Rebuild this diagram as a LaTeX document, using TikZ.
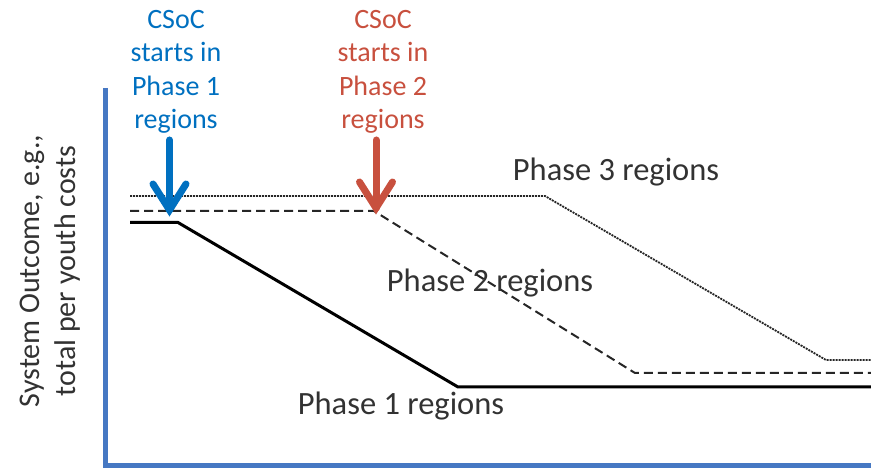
\documentclass[tikz,border=0pt]{standalone}
\usepackage{fontspec}
\setmainfont{Carlito}
\definecolor{axisblue}{RGB}{70,120,195}
\definecolor{arrblue}{RGB}{0,112,192}
\definecolor{arrred}{RGB}{200,80,62}
\definecolor{txtgray}{RGB}{50,50,50}
\begin{document}
\begin{tikzpicture}[x=1pt,y=-1pt,
  lbl/.style={font=\fontsize{28}{33.5}\selectfont, align=center, inner sep=0pt},
  phaselbl/.style={font=\fontsize{32.5}{38}\selectfont, text=txtgray, inner sep=0pt},
  bigarrow/.style={line width=7pt, line cap=round, line join=miter},
  p1/.style={line width=3pt, black},
  p2/.style={line width=2pt, black!85, dash pattern=on 9pt off 5pt},
  p3/.style={line width=1.8pt, black!85, dash pattern=on 2pt off 1pt}]
\useasboundingbox (0,0) rectangle (871,470);
% axes
\coordinate (ytop) at (105,88);
\coordinate (origin) at (105,466);
\coordinate (xend) at (871,466);
\draw[axisblue, line width=5pt] (ytop) -- (origin) -- (xend);
% y label
\node[rotate=90, font=\fontsize{30}{36}\selectfont, text=txtgray, align=center, inner sep=0pt] (ylab) at (50,271) {System Outcome, e.g.,\\total per youth costs};
% Phase 3 (dotted)
\coordinate (a3) at (130,196);
\coordinate (b3) at (545,196);
\coordinate (c3) at (826,360);
\coordinate (d3) at (871,360);
\draw[p3] (a3) -- (b3) -- (c3) -- (d3);
% Phase 2 (dashed)
\coordinate (a2) at (130,211);
\coordinate (b2) at (374,211);
\coordinate (c2) at (635,373);
\coordinate (d2) at (871,373);
\draw[p2] (a2) -- (b2) -- (c2) -- (d2);
% Phase 1 (solid)
\coordinate (a1) at (130,222.5);
\coordinate (b1) at (178,222.5);
\coordinate (c1) at (458,387);
\coordinate (d1) at (871,387);
\draw[p1] (a1) -- (b1) -- (c1) -- (d1);
% labels
\node[phaselbl] (l3) at (616,172) {Phase 3 regions};
\node[phaselbl] (l2) at (490,283) {Phase 2 regions};
\node[phaselbl] (l1) at (401,406) {Phase 1 regions};
% CSoC texts
\node[lbl, text=arrblue] (t1) at (176,72) {CSoC\\starts in\\Phase 1\\regions};
\node[lbl, text=arrred] (t2) at (383,72) {CSoC\\starts in\\Phase 2\\regions};
% arrows
\coordinate (s1) at (169.5,140);
\coordinate (e1) at (169.5,210);
\draw[bigarrow, arrblue] (s1) -- (e1);
\draw[bigarrow, arrblue] (153,184) -- (169.5,210) -- (186,184);
\coordinate (s2) at (376,140);
\coordinate (e2) at (376,208);
\draw[bigarrow, arrred] (s2) -- (e2);
\draw[bigarrow, arrred] (359.5,182) -- (376,208) -- (392.5,182);
\end{tikzpicture}
\end{document}
